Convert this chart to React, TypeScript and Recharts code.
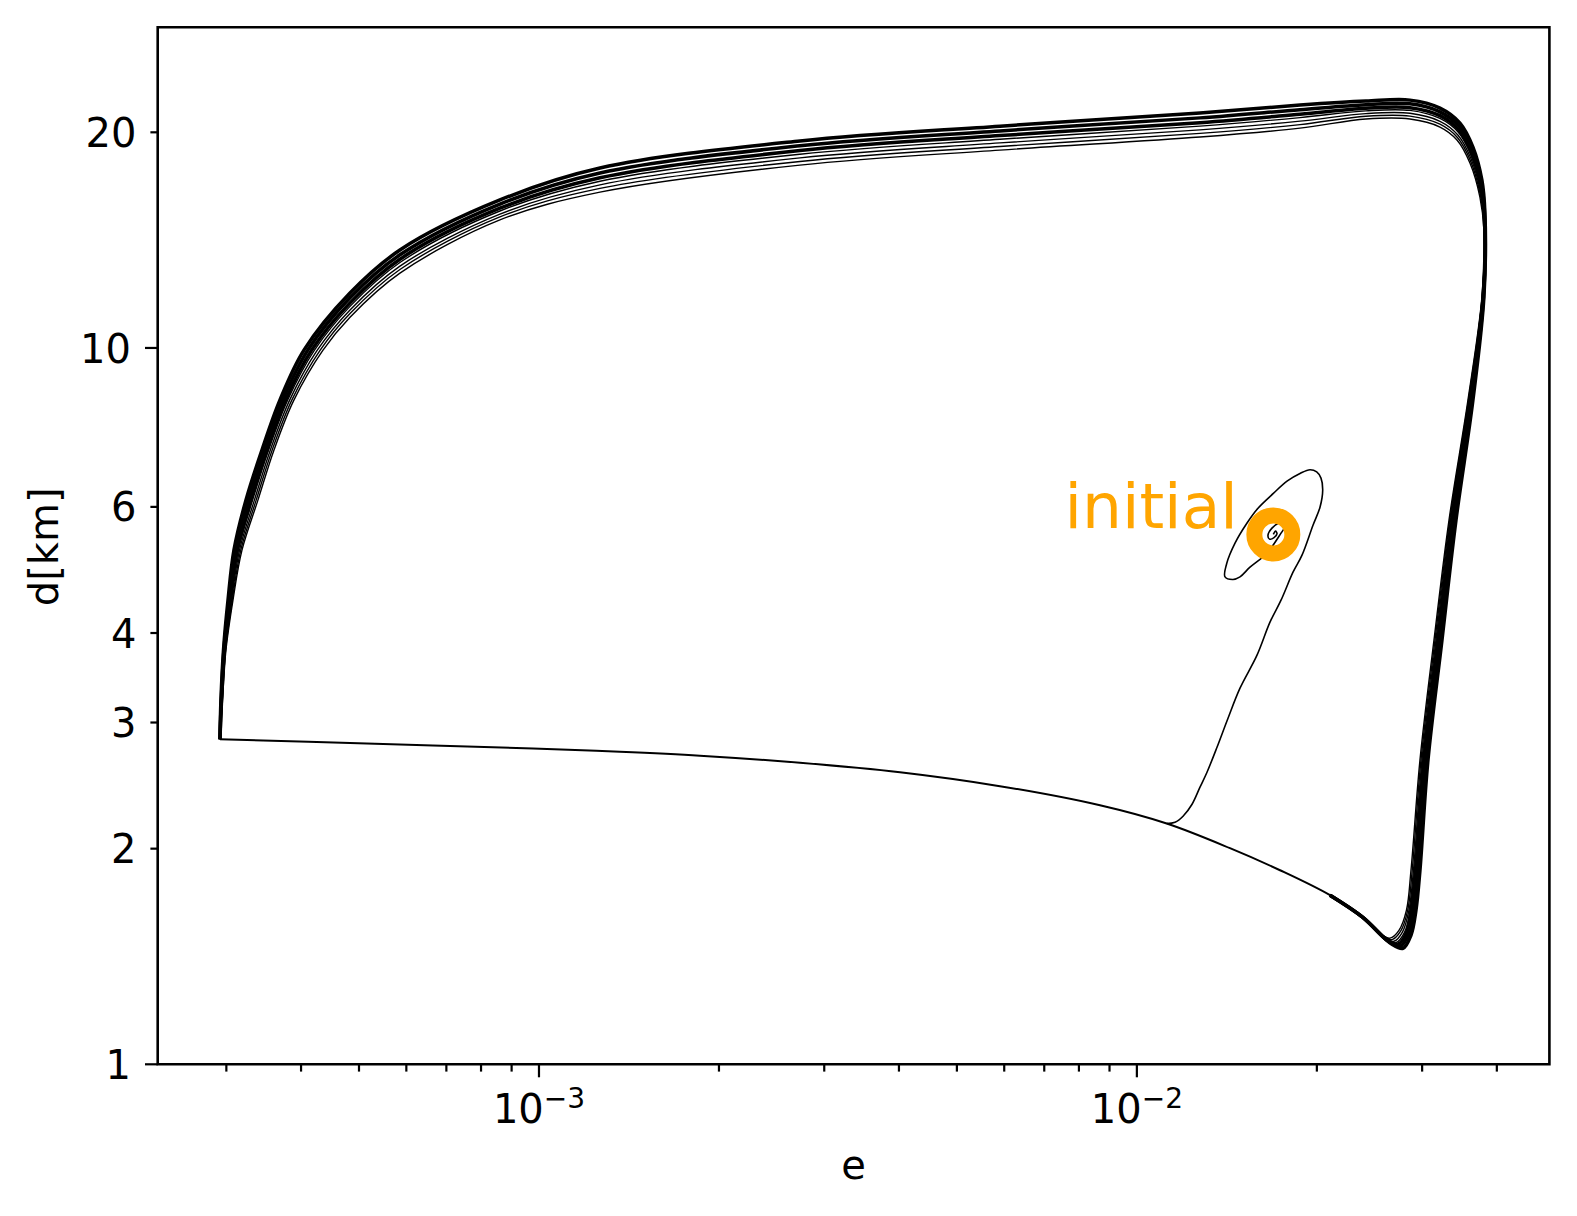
import React from 'react';
import { ComposedChart, Line, XAxis, YAxis, ReferenceArea, Label } from 'recharts';

const FONT = '"DejaVu Sans", sans-serif';

// axis ranges and ticks
const xDomain = [2.303e-4, 4.8975e-2];
const yDomain = [1, 28.03];
const xTicks = [3e-4, 4e-4, 5e-4, 6e-4, 7e-4, 8e-4, 9e-4, 1e-3, 2e-3, 3e-3, 4e-3, 5e-3, 6e-3, 7e-3, 8e-3, 9e-3, 1e-2, 2e-2, 3e-2, 4e-2];
const yTicks = [1, 2, 3, 4, 6, 10, 20];

// initial state
const initialE = [1.6914e-2];
const initialD = [5.491];

// transient: spiral out of the initial point, down to the lower branch
const spiralE = [1.6914e-2, 1.7057e-2, 1.7156e-2, 1.6959e-2, 1.6665e-2, 1.6569e-2, 1.6826e-2, 1.7289e-2, 1.7658e-2, 1.7726e-2,
  1.7422e-2, 1.6486e-2, 1.5460e-2, 1.4876e-2, 1.4481e-2, 1.4042e-2, 1.4134e-2, 1.4593e-2, 1.5265e-2, 1.5944e-2,
  1.6914e-2, 1.7829e-2, 1.8744e-2, 1.9480e-2, 1.9989e-2, 2.0322e-2, 2.0456e-2, 2.0244e-2, 1.9706e-2, 1.8889e-2,
  1.8245e-2, 1.7422e-2, 1.6697e-2, 1.5883e-2, 1.4876e-2, 1.4205e-2, 1.3616e-2, 1.3101e-2, 1.2752e-2, 1.2368e-2,
  1.1946e-2, 1.1584e-2, 1.1217e-2];
const spiralD = [5.491, 5.550, 5.505, 5.435, 5.409, 5.479, 5.604, 5.702, 5.730, 5.648,
  5.514, 5.166, 4.943, 4.791, 4.751, 4.791, 5.002, 5.340, 5.688, 5.974,
  6.265, 6.518, 6.680, 6.762, 6.714, 6.581, 6.332, 5.994, 5.657, 5.138,
  4.864, 4.445, 4.142, 3.725, 3.350, 3.042, 2.771, 2.557, 2.437, 2.307,
  2.220, 2.177, 2.168];

// lower branch (all cycles overlap here), right to left
const lowerE = [2.3873e-2, 2.104e-2, 1.7355e-2, 1.4312e-2, 1.1217e-2, 8.675e-3, 5.902e-3, 4.016e-3, 2.732e-3, 1.8588e-3, 1.3658e-3, 9.772e-4, 5.150e-4, 2.927e-4];
const lowerD = [1.604, 1.722, 1.866, 2.003, 2.168, 2.299, 2.445, 2.557, 2.636, 2.697, 2.731, 2.759, 2.804, 2.843];

// cycles: shared sample levels
const leftD = [2.843, 3.224, 3.785, 4.444, 5.221, 6.131, 7.199, 8.456, 9.930];
const topE = [4.830e-4, 5.854e-4, 8.604e-4, 1.2648e-3, 2.732e-3, 5.902e-3, 1.2752e-2, 1.8744e-2, 2.4157e-2, 2.8626e-2, 3.2132e-2];
const rightD = [11.78, 8.456, 5.747, 3.909, 2.658, 1.866, 1.641];
const mergeE = [2.3873e-2, 2.104e-2];
const mergeD = [1.604, 1.722];

// cycles, outermost first
const loopLeftE = [
  [2.927e-4, 2.938e-4, 2.967e-4, 3.019e-4, 3.089e-4, 3.235e-4, 3.440e-4, 3.687e-4, 4.045e-4],
  [2.927e-4, 2.942e-4, 2.972e-4, 3.030e-4, 3.108e-4, 3.265e-4, 3.473e-4, 3.727e-4, 4.105e-4],
  [2.927e-4, 2.945e-4, 2.978e-4, 3.042e-4, 3.127e-4, 3.296e-4, 3.505e-4, 3.768e-4, 4.166e-4],
  [2.927e-4, 2.948e-4, 2.982e-4, 3.051e-4, 3.142e-4, 3.319e-4, 3.529e-4, 3.798e-4, 4.212e-4],
  [2.927e-4, 2.950e-4, 2.986e-4, 3.060e-4, 3.156e-4, 3.342e-4, 3.553e-4, 3.828e-4, 4.258e-4],
  [2.927e-4, 2.953e-4, 2.991e-4, 3.069e-4, 3.171e-4, 3.365e-4, 3.578e-4, 3.860e-4, 4.306e-4],
  [2.927e-4, 2.956e-4, 2.995e-4, 3.077e-4, 3.186e-4, 3.388e-4, 3.603e-4, 3.891e-4, 4.353e-4],
];
const loopTopD = [
  [11.93, 13.70, 16.09, 17.83, 19.45, 20.40, 21.28, 21.83, 22.11, 22.18, 21.62],
  [11.75, 13.49, 15.88, 17.55, 19.15, 20.09, 20.95, 21.51, 21.86, 21.92, 21.36],
  [11.56, 13.30, 15.67, 17.28, 18.86, 19.79, 20.63, 21.20, 21.61, 21.65, 21.10],
  [11.43, 13.16, 15.53, 17.09, 18.64, 19.56, 20.40, 20.97, 21.43, 21.46, 20.91],
  [11.30, 13.01, 15.38, 16.89, 18.42, 19.33, 20.16, 20.73, 21.24, 21.26, 20.72],
  [11.17, 12.87, 15.24, 16.70, 18.21, 19.11, 19.93, 20.50, 21.06, 21.07, 20.53],
  [11.04, 12.72, 15.09, 16.50, 18.00, 18.89, 19.70, 20.27, 20.87, 20.87, 20.34],
];
const loopCornerE = [
  [3.4704e-2, 3.6482e-2, 3.7766e-2, 3.8205e-2],
  [3.4624e-2, 3.6398e-2, 3.7708e-2, 3.8176e-2],
  [3.4544e-2, 3.6315e-2, 3.7651e-2, 3.8146e-2],
  [3.4485e-2, 3.6252e-2, 3.7608e-2, 3.8124e-2],
  [3.4425e-2, 3.6189e-2, 3.7564e-2, 3.8102e-2],
  [3.4366e-2, 3.6127e-2, 3.7521e-2, 3.8080e-2],
  [3.4306e-2, 3.6064e-2, 3.7477e-2, 3.8058e-2],
];
const loopCornerD = [
  [20.60, 19.07, 17.15, 15.43],
  [20.38, 18.88, 16.97, 15.26],
  [20.16, 18.68, 16.78, 15.10],
  [20.00, 18.54, 16.65, 14.98],
  [19.83, 18.40, 16.51, 14.85],
  [19.67, 18.26, 16.38, 14.73],
  [19.51, 18.12, 16.24, 14.60],
];
const loopRightE = [
  [3.8058e-2, 3.6482e-2, 3.4175e-2, 3.2380e-2, 3.0681e-2, 2.9749e-2, 2.9295e-2],
  [3.8000e-2, 3.6315e-2, 3.3939e-2, 3.2132e-2, 3.0446e-2, 2.9498e-2, 2.9026e-2],
  [3.7941e-2, 3.6148e-2, 3.3704e-2, 3.1886e-2, 3.0212e-2, 2.9250e-2, 2.8759e-2],
  [3.7883e-2, 3.6037e-2, 3.3581e-2, 3.1764e-2, 3.0096e-2, 2.9133e-2, 2.8638e-2],
  [3.7824e-2, 3.5926e-2, 3.3458e-2, 3.1641e-2, 2.9980e-2, 2.9015e-2, 2.8517e-2],
  [3.7795e-2, 3.5857e-2, 3.3362e-2, 3.1520e-2, 2.9865e-2, 2.8877e-2, 2.8380e-2],
  [3.7766e-2, 3.5788e-2, 3.3266e-2, 3.1398e-2, 2.9749e-2, 2.8738e-2, 2.8243e-2],
];
const loopDipE = [
  [2.8736e-2, 2.7866e-2, 2.6708e-2],
  [2.8473e-2, 2.7588e-2, 2.6462e-2],
  [2.8212e-2, 2.7314e-2, 2.6219e-2],
  [2.8018e-2, 2.7109e-2, 2.6032e-2],
  [2.7823e-2, 2.6904e-2, 2.5844e-2],
  [2.7632e-2, 2.6704e-2, 2.5666e-2],
  [2.7440e-2, 2.6503e-2, 2.5488e-2],
];
const loopDipD = [
  [1.514, 1.452, 1.471],
  [1.519, 1.462, 1.481],
  [1.523, 1.471, 1.490],
  [1.527, 1.478, 1.500],
  [1.531, 1.485, 1.510],
  [1.535, 1.493, 1.517],
  [1.538, 1.500, 1.523],
];

const loopWidths = [3.5, 3.5, 3.5, 1.4, 1.4, 1.4, 1.4];

type Pt = { e: number; d: number };
const zip = (es: number[], ds: number[]): Pt[] => es.map((e, i) => ({ e, d: ds[i] }));

function buildLoop(i: number) {
  const pts: Pt[] = [];
  leftD.forEach((d, j) => pts.push({ e: loopLeftE[i][j], d }));
  topE.forEach((e, j) => pts.push({ e, d: loopTopD[i][j] }));
  loopCornerE[i].forEach((e, j) => pts.push({ e, d: loopCornerD[i][j] }));
  rightD.forEach((d, j) => pts.push({ e: loopRightE[i][j], d }));
  loopDipE[i].forEach((e, j) => pts.push({ e, d: loopDipD[i][j] }));
  mergeE.forEach((e, j) => pts.push({ e, d: mergeD[j] }));
  return pts;
}

// centripetal Catmull-Rom curve (smooth through the read points)
function catmullRom(context: any) {
  let pts: number[][] = [];
  return {
    areaStart() {},
    areaEnd() {},
    lineStart() {
      pts = [];
    },
    point(x: number, y: number) {
      pts.push([+x, +y]);
    },
    lineEnd() {
      const n = pts.length;
      if (!n) return;
      context.moveTo(pts[0][0], pts[0][1]);
      for (let i = 0; i < n - 1; i++) {
        const p0 = pts[i > 0 ? i - 1 : i];
        const p1 = pts[i];
        const p2 = pts[i + 1];
        const p3 = pts[i + 2 < n ? i + 2 : i + 1];
        const l01 = Math.sqrt(Math.hypot(p1[0] - p0[0], p1[1] - p0[1]));
        const l12 = Math.sqrt(Math.hypot(p2[0] - p1[0], p2[1] - p1[1]));
        const l23 = Math.sqrt(Math.hypot(p3[0] - p2[0], p3[1] - p2[1]));
        const l01s = l01 * l01;
        const l12s = l12 * l12;
        const l23s = l23 * l23;
        let c1x = p1[0];
        let c1y = p1[1];
        let c2x = p2[0];
        let c2y = p2[1];
        if (l01 > 1e-6) {
          const a = 2 * l01s + 3 * l01 * l12 + l12s;
          const m = 3 * l01 * (l01 + l12);
          c1x = (p1[0] * a - p0[0] * l12s + p2[0] * l01s) / m;
          c1y = (p1[1] * a - p0[1] * l12s + p2[1] * l01s) / m;
        }
        if (l23 > 1e-6) {
          const b = 2 * l23s + 3 * l23 * l12 + l12s;
          const m = 3 * l23 * (l23 + l12);
          c2x = (p2[0] * b + p1[0] * l23s - p3[0] * l12s) / m;
          c2y = (p2[1] * b + p1[1] * l23s - p3[1] * l12s) / m;
        }
        context.bezierCurveTo(c1x, c1y, c2x, c2y, p2[0], p2[1]);
      }
    },
  };
}

const isDecade = (v: number) => Math.abs(Math.log10(v) - Math.round(Math.log10(v))) < 1e-9;

function XTick(props: any) {
  const { x, y, payload } = props;
  const v = payload.value;
  const major = isDecade(v);
  const exp = Math.round(Math.log10(v));
  return (
    <g>
      <line x1={x} x2={x} y1={y} y2={y + (major ? 13 : 7.3)} stroke="#000" strokeWidth={2.2} />
      {major && (
        <text x={x} y={y + 59} textAnchor="middle" fontSize={40} fontFamily={FONT} fill="#000">
          10<tspan dy={-15} fontSize={28}>{'\u2212' + Math.abs(exp)}</tspan>
        </text>
      )}
    </g>
  );
}

function YTick(props: any) {
  const { x, y, payload } = props;
  const v = payload.value;
  const major = isDecade(v);
  const len = major ? 12.7 : 7.3;
  return (
    <g>
      <line x1={x - len} x2={x} y1={y} y2={y} stroke="#000" strokeWidth={2.2} />
      <text x={x - len - 14} y={y + 14.6} textAnchor="end" fontSize={40} fontFamily={FONT} fill="#000">
        {v}
      </text>
    </g>
  );
}

// fat orange ring marker plus its text label
function InitialMarker(props: any) {
  const { cx, cy } = props;
  if (cx == null || cy == null) return <g key="initial" />;
  return (
    <g key="initial">
      <circle cx={cx} cy={cy} r={19} fill="none" stroke="#FFA500" strokeWidth={16} />
      <text x={cx - 35.6} y={cy - 6} textAnchor="end" fontSize={63} fontFamily={FONT} fill="#FFA500">
        initial
      </text>
    </g>
  );
}

export default function App() {
  const loops = loopLeftE.map((_, i) => buildLoop(i));
  return (
    <div style={{ position: 'absolute', left: 0, top: 0, width: 1577, height: 1216, background: '#fff', fontFamily: FONT }}>
      <ComposedChart width={1577} height={1216} margin={{ top: 27.3, right: 27.6, bottom: 121.7, left: 97.7 }}>
        <XAxis
          dataKey="e"
          type="number"
          scale="log"
          domain={xDomain}
          allowDataOverflow
          ticks={xTicks}
          interval={0}
          tick={(p: any) => <XTick {...p} />}
          tickSize={0}
          tickMargin={0}
          tickLine={false}
          axisLine={false}
          height={30}
        >
          <Label
            content={(p: any) => {
              const vb = p.viewBox || { x: 157.7, y: 1064.3, width: 1391.7 };
              return (
                <text x={vb.x + vb.width / 2} y={vb.y + 115} textAnchor="middle" fontSize={40} fontFamily={FONT} fill="#000">
                  e
                </text>
              );
            }}
          />
        </XAxis>
        <YAxis
          dataKey="d"
          type="number"
          scale="log"
          domain={yDomain}
          allowDataOverflow
          ticks={yTicks}
          interval={0}
          tick={(p: any) => <YTick {...p} />}
          tickSize={0}
          tickMargin={0}
          tickLine={false}
          axisLine={false}
          width={60}
        >
          <Label
            content={(p: any) => {
              const vb = p.viewBox || { x: 97.7, y: 27.3, width: 60, height: 1037 };
              const tx = vb.x + vb.width - 99.2;
              const ty = vb.y + vb.height / 2 + 1;
              return (
                <text x={tx} y={ty} transform={`rotate(-90 ${tx} ${ty})`} textAnchor="middle" fontSize={40} fontFamily={FONT} fill="#000">
                  d[km]
                </text>
              );
            }}
          />
        </YAxis>

        <Line
          data={zip(initialE, initialD)}
          dataKey="d"
          stroke="none"
          isAnimationActive={false}
          dot={(p: any) => <InitialMarker {...p} />}
          activeDot={false}
        />

        <Line data={zip(spiralE, spiralD)} dataKey="d" type={catmullRom as any} stroke="#000" strokeWidth={1.6} dot={false} activeDot={false} isAnimationActive={false} />
        <Line data={zip(lowerE, lowerD)} dataKey="d" type={catmullRom as any} stroke="#000" strokeWidth={2} dot={false} activeDot={false} isAnimationActive={false} />
        {loops.map((pts, i) => (
          <Line
            key={i}
            data={pts}
            dataKey="d"
            type={catmullRom as any}
            stroke="#000"
            strokeWidth={loopWidths[i]}
            dot={false}
            activeDot={false}
            isAnimationActive={false}
          />
        ))}

        <ReferenceArea x1={xDomain[0]} x2={xDomain[1]} y1={yDomain[0]} y2={yDomain[1]} fill="none" stroke="#000" strokeWidth={2.6} ifOverflow="visible" />
      </ComposedChart>
    </div>
  );
}
